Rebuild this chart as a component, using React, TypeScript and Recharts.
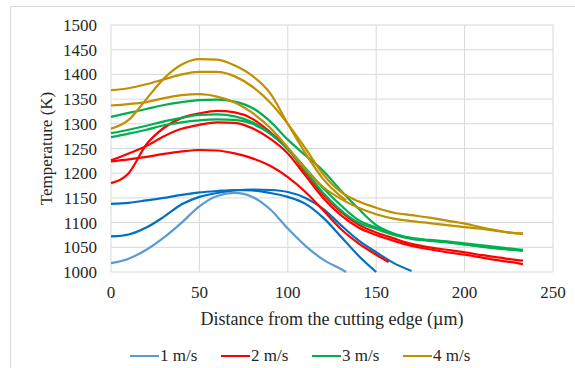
import React from 'react';
import { LineChart, Line, XAxis, YAxis, CartesianGrid, Label } from 'recharts';

const _ = null;

// distance from the cutting edge (µm)
const distances = [0, 10, 20, 30, 40, 50, 60, 70, 80, 90, 100, 110, 120, 130, 133, 140, 150, 157, 160, 170, 180, 190, 200, 210, 220, 230, 233];

const speed1a = [1018, 1027, 1045, 1070, 1100, 1133, 1154, 1160, 1152, 1127, 1088, 1053, 1025, 1006, 1000, _, _, _, _, _, _, _, _, _, _, _, _];
const speed1b = [1072, 1076, 1090, 1112, 1137, 1152, 1160, 1165, 1167, 1166, 1162, 1150, 1128, 1095, _, 1064, 1040, _, 1018, 1002, _, _, _, _, _, _, _];
const speed1c = [1138, 1140, 1145, 1150, 1156, 1161, 1164, 1166, 1165, 1160, 1152, 1138, 1110, 1072, _, 1033, 1000, _, _, _, _, _, _, _, _, _, _];

const speed2a = [1180, 1200, 1258, 1292, 1312, 1321, 1326, 1323, 1310, 1283, 1250, 1202, 1157, 1122, _, 1096, 1080, _, 1068, 1057, 1050, 1045, 1040, 1034, 1029, 1024, 1023];
const speed2b = [1226, 1240, 1255, 1275, 1290, 1298, 1303, 1302, 1291, 1270, 1240, 1195, 1150, 1115, _, 1090, 1075, _, 1063, 1053, 1046, 1040, 1035, 1029, 1023, 1018, 1016];
const speed2c = [1224, 1228, 1233, 1239, 1244, 1247, 1246, 1240, 1230, 1215, 1192, 1162, 1125, 1087, _, 1058, 1035, 1020, _, _, _, _, _, _, _, _, _];

const speed3a = [1314, 1322, 1330, 1338, 1344, 1348, 1349, 1345, 1332, 1305, 1268, 1236, 1205, 1165, _, 1128, 1095, _, 1078, 1069, 1065, 1062, 1058, 1054, 1050, 1046, 1045];
const speed3b = [1281, 1288, 1296, 1305, 1312, 1318, 1319, 1315, 1303, 1280, 1250, 1210, 1170, 1135, _, 1105, 1090, _, 1077, 1068, 1064, 1061, 1056, 1052, 1048, 1044, 1043];
const speed3c = [1273, 1280, 1288, 1297, 1303, 1307, 1309, 1308, 1300, 1280, 1248, 1205, 1160, 1125, _, 1100, 1087, _, 1075, 1067, 1063, 1060, 1056, 1051, 1047, 1044, 1043];

const speed4a = [1290, 1308, 1350, 1392, 1420, 1431, 1430, 1418, 1397, 1362, 1300, 1240, 1188, 1153, 1145, _, _, _, _, _, _, _, _, _, _, _, _];
const speed4b = [1368, 1372, 1380, 1390, 1400, 1405, 1405, 1396, 1375, 1343, 1300, 1250, 1198, 1162, _, 1143, 1130, _, 1120, 1115, 1110, 1104, 1098, 1090, 1083, 1078, 1078];
const speed4c = [1337, 1340, 1344, 1352, 1358, 1360, 1355, 1343, 1322, 1292, 1252, 1208, 1172, 1148, _, 1130, 1117, _, 1108, 1103, 1099, 1095, 1091, 1087, 1082, 1078, 1077];

const xTicks = [0, 50, 100, 150, 200, 250];
const yTicks = [1000, 1050, 1100, 1150, 1200, 1250, 1300, 1350, 1400, 1450, 1500];

const legendItems = [
  { name: '1 m/s', color: '#5B9BD5' },
  { name: '2 m/s', color: '#FF0000' },
  { name: '3 m/s', color: '#00B050' },
  { name: '4 m/s', color: '#BF9000' },
];

const series = [
  { key: 's1a', values: speed1a, color: '#5B9BD5' },
  { key: 's1b', values: speed1b, color: '#0070C0' },
  { key: 's1c', values: speed1c, color: '#0070C0' },
  { key: 's2a', values: speed2a, color: '#FF0000' },
  { key: 's2b', values: speed2b, color: '#FF0000' },
  { key: 's2c', values: speed2c, color: '#FF0000' },
  { key: 's3a', values: speed3a, color: '#00B050' },
  { key: 's3b', values: speed3b, color: '#00B050' },
  { key: 's3c', values: speed3c, color: '#00B050' },
  { key: 's4a', values: speed4a, color: '#BF9000' },
  { key: 's4b', values: speed4b, color: '#BF9000' },
  { key: 's4c', values: speed4c, color: '#BF9000' },
];

const data = distances.map((x, i) => {
  const row: Record<string, number | null> = { x };
  series.forEach((s) => { row[s.key] = s.values[i]; });
  return row;
});

const FONT = '"Liberation Serif", "Times New Roman", serif';
const TEXT = '#262626';

const YTitle = ({ viewBox }: any) => {
  const cx = viewBox.x - 5;
  const cy = viewBox.y + viewBox.height / 2;
  return (
    <text x={cx} y={cy} transform={`rotate(-90 ${cx} ${cy})`} textAnchor="middle"
      dominantBaseline="central" fill={TEXT} fontSize={17} fontFamily={FONT}>
      Temperature (K)
    </text>
  );
};

export default function App() {
  return (
    <div style={{ position: 'absolute', left: 0, top: 0, width: 575, height: 368, overflow: 'hidden', background: '#fff' }}>
      <div style={{ position: 'absolute', left: 10, top: 6, width: 620, height: 420, border: '1px solid #d9d9d9' }} />
      <div style={{ position: 'absolute', left: 0, top: 0 }}>
        <LineChart width={575} height={368} data={data} margin={{ top: 25, right: 22, bottom: 66, left: 51 }}>
          <CartesianGrid stroke="#d9d9d9" strokeWidth={1} />
          <XAxis dataKey="x" type="number" domain={[0, 250]} ticks={xTicks} height={30}
            axisLine={false} tickLine={false} tickSize={6} tickMargin={8} interval={0}
            tick={{ fill: TEXT, fontSize: 17, fontFamily: FONT }}>
            <Label value="Distance from the cutting edge (µm)" position="bottom" offset={10}
              fill={TEXT} fontSize={18} fontFamily={FONT} />
          </XAxis>
          <YAxis type="number" domain={[1000, 1500]} ticks={yTicks} width={60} interval={0}
            axisLine={false} tickLine={false} tickSize={6} tickMargin={8}
            tick={{ fill: TEXT, fontSize: 17, fontFamily: FONT }}>
            <Label content={YTitle} />
          </YAxis>
          {series.map((s) => (
            <Line key={s.key} dataKey={s.key} type="monotone" stroke={s.color} strokeWidth={2.2}
              dot={false} activeDot={false} connectNulls isAnimationActive={false} legendType="none" />
          ))}
        </LineChart>
      </div>
      <div style={{ position: 'absolute', left: 130, top: 346, display: 'flex', fontFamily: FONT, fontSize: 17, color: TEXT }}>
        {legendItems.map((item) => (
          <div key={item.name} style={{ display: 'flex', alignItems: 'center', width: 91 }}>
            <div style={{ width: 29, height: 2.5, background: item.color, marginRight: 1 }} />
            <span style={{ lineHeight: '20px' }}>{item.name}</span>
          </div>
        ))}
      </div>
    </div>
  );
}
